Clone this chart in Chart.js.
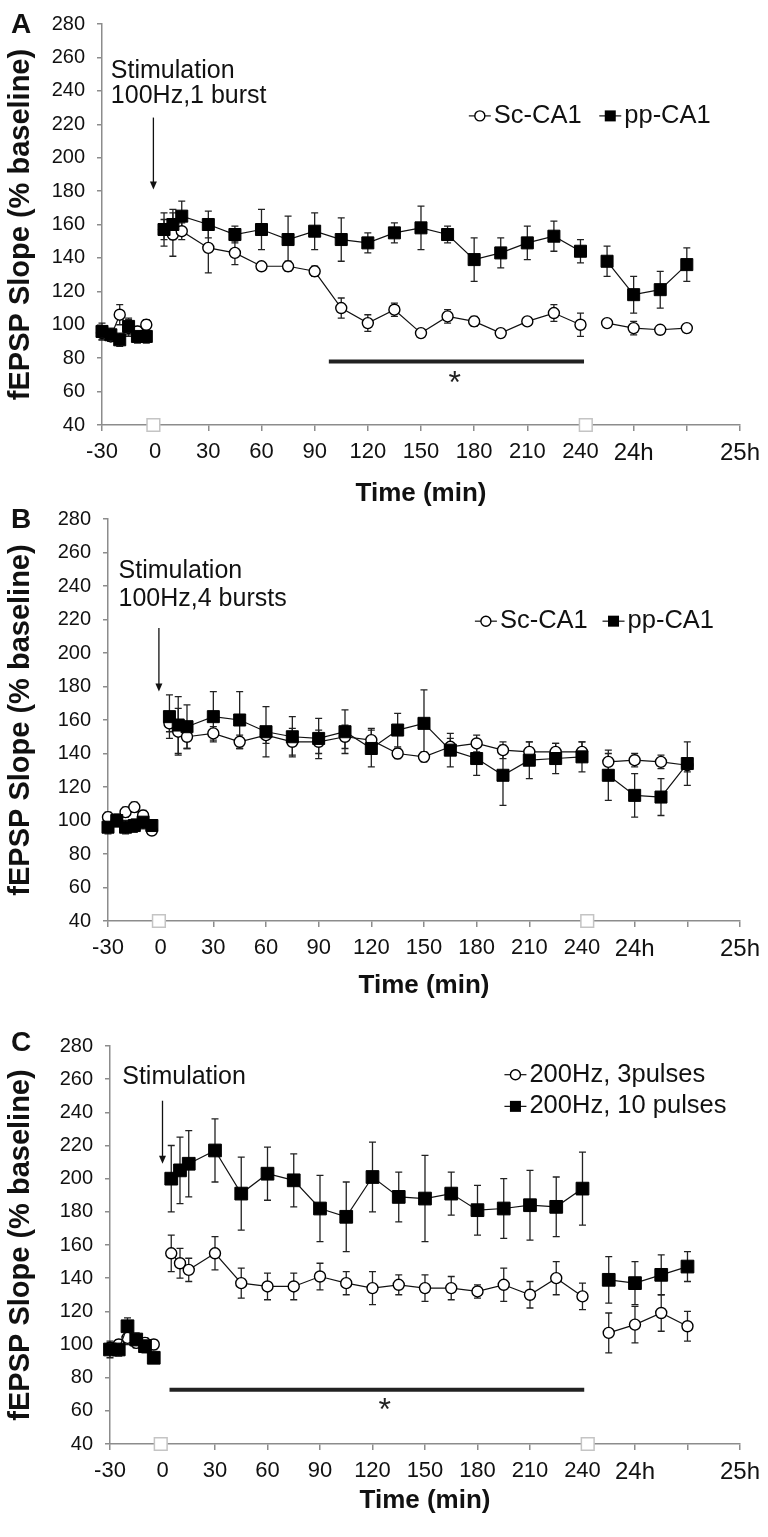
<!DOCTYPE html>
<html>
<head>
<meta charset="utf-8">
<script src="https://cdn.jsdelivr.net/npm/chart.js@4.4.0/dist/chart.umd.min.js"></script>
<style>
  html, body { margin: 0; padding: 0; background: #fff; }
  #page { position: relative; width: 768px; height: 1537px; overflow: hidden; }
  canvas { position: absolute; left: 0; }
</style>
</head>
<body>
<div id="page">
  <canvas id="panelA" width="768" height="510" style="top:0px"></canvas>
  <canvas id="panelB" width="768" height="510" style="top:495px"></canvas>
  <canvas id="panelC" width="768" height="515" style="top:1022px"></canvas>
</div>
<script>
// Time points (min). The last four were recorded around 24 h and sit just past the break.
const times = [-30, -25, -20, -15, -10, -5,
  5, 10, 15, 30, 45, 60, 75, 90, 105, 120, 135, 150, 165, 180, 195, 210, 225, 240,
  255, 270, 285, 300];
const breakAfter = [-5, 240];
const tickValues = [-30, 0, 30, 60, 90, 120, 150, 180, 210, 240, 270, 300, 330];
const tickLabels = ['-30', '0', '30', '60', '90', '120', '150', '180', '210', '240', '24h', '', '25h'];
const breakMarks = [-1, 243];

// A: 100Hz, 1 burst
const aScMean = [95, 93, 106, 98, 96, 100,
  157, 154, 156, 146, 143, 135, 135, 132, 110, 101, 109, 95, 105, 102, 95, 102, 107, 100,
  101, 98, 97, 98];
const aScSem = [4, 3, 6, 5, 3, 3,
  6, 13, 5, 15, 7, 2, 3, 3, 6, 5, 4, 2, 4, 3, 2, 2, 5, 7,
  2, 4, 2, 2];
const aPpMean = [96, 94, 91, 99, 93, 93,
  157, 160, 165, 160, 154, 157, 151, 156, 151, 149, 155, 158, 154, 139, 143, 149, 153, 144,
  138, 118, 121, 136];
const aPpSem = [5, 4, 4, 5, 4, 4,
  10, 9, 9, 8, 5, 12, 14, 11, 13, 6, 6, 13, 5, 13, 9, 10, 9, 7,
  9, 11, 11, 10];

// B: 100Hz, 4 bursts
const bScMean = [102, 100, 105, 108, 103, 94,
  158, 153, 150, 152, 147, 151, 147, 147, 150, 148, 140, 138, 144, 146, 142, 141, 141, 141,
  135, 136, 135, 133];
const bScSem = [3, 3, 3, 3, 3, 2,
  5, 14, 7, 4, 4, 5, 8, 7, 7, 7, 3, 3, 5, 5, 5, 6, 5, 6,
  5, 4, 4, 4];
const bPpMean = [96, 100, 96, 97, 99, 97,
  162, 157, 156, 162, 160, 153, 150, 149, 153, 143, 154, 158, 142, 137, 127, 136, 137, 138,
  127, 115, 114, 134];
const bPpSem = [4, 4, 4, 4, 4, 3,
  13, 17, 13, 15, 17, 15, 12, 12, 13, 11, 10, 20, 10, 10, 18, 11, 9, 9,
  15, 13, 11, 13];

// C: 200Hz, 3 vs 10 pulses
const c3Mean = [98, 100, 104, 101, 101, 100,
  155, 149, 145, 155, 137, 135, 135, 141, 137, 134, 136, 134, 134, 132, 136, 130, 140, 129,
  107, 112, 119, 111];
const c3Sem = [3, 3, 4, 3, 3, 3,
  11, 9, 7, 10, 9, 8, 8, 8, 7, 10, 6, 8, 7, 4, 10, 8, 10, 8,
  12, 11, 11, 9];
const c10Mean = [97, 97, 111, 103, 99, 92,
  200, 205, 209, 217, 191, 203, 199, 182, 177, 201, 189, 188, 191, 181, 182, 184, 183, 194,
  139, 137, 142, 147];
const c10Sem = [5, 4, 5, 4, 4, 3,
  20, 20, 20, 19, 22, 16, 16, 20, 21, 21, 15, 26, 13, 15, 18, 21, 18, 22,
  14, 13, 12, 9];

const SANS = '"Liberation Sans", Arial, sans-serif';
const NARROW = '"Liberation Sans Narrow", "Arial Narrow", "Liberation Sans", sans-serif';
const AXIS = '#8c8c8c';
const INK = '#111';

/** Turns a mean/sem pair into line points, with gaps at the stimulation and the 24h break. */
function toPoints(means, sems) {
    const data = [], errors = [];
    times.forEach((t, i) => {
        data.push({x: t, y: means[i]});
        errors.push(sems[i]);
        if (breakAfter.includes(t)) {
            data.push({x: t, y: null});
            errors.push(null);
        }
    });
    return {data, errors};
}

function squares(label, means, sems, size) {
    const {data, errors} = toPoints(means, sems);
    return {
        label, data, errors,
        borderColor: INK, borderWidth: 1.2,
        pointStyle: 'rect', pointRadius: size, pointBackgroundColor: '#000',
        pointBorderColor: '#000', pointBorderWidth: 1,
        spanGaps: false, tension: 0, clip: false
    };
}

function circles(label, means, sems, size) {
    const {data, errors} = toPoints(means, sems);
    return {
        label, data, errors,
        borderColor: INK, borderWidth: 1.2,
        pointStyle: 'circle', pointRadius: size, pointBackgroundColor: '#fff',
        pointBorderColor: '#000', pointBorderWidth: 1.4,
        spanGaps: false, tension: 0, clip: false
    };
}

function breakSquares() {
    return {
        label: 'break',
        data: breakMarks.map(t => ({x: t, y: 40})),
        showLine: false,
        pointStyle: 'rect', pointRadius: 9, pointBackgroundColor: '#fff',
        pointBorderColor: '#c4c4c4', pointBorderWidth: 1.5, clip: false
    };
}

/** Vertical SEM bars with caps, drawn under the markers. */
const errorBars = {
    id: 'errorBars',
    beforeDatasetsDraw(chart) {
        const {ctx, scales: {x, y}} = chart;
        ctx.save();
        ctx.strokeStyle = '#222';
        ctx.lineWidth = 1.3;
        chart.data.datasets.forEach(ds => {
            if (!ds.errors) return;
            ds.data.forEach((p, i) => {
                const e = ds.errors[i];
                if (p.y == null || e == null) return;
                const px = x.getPixelForValue(p.x);
                const top = y.getPixelForValue(p.y + e);
                const bot = y.getPixelForValue(p.y - e);
                ctx.beginPath();
                ctx.moveTo(px, top); ctx.lineTo(px, bot);
                ctx.moveTo(px - 3.5, top); ctx.lineTo(px + 3.5, top);
                ctx.moveTo(px - 3.5, bot); ctx.lineTo(px + 3.5, bot);
                ctx.stroke();
            });
        });
        ctx.restore();
    }
};

function drawMarker(ctx, style, cx, cy) {
    ctx.lineWidth = 1.4;
    ctx.strokeStyle = '#000';
    if (style === 'square') {
        ctx.fillStyle = '#000';
        ctx.fillRect(cx - 5.5, cy - 5.5, 11, 11);
    } else {
        ctx.beginPath();
        ctx.arc(cx, cy, 5, 0, Math.PI * 2);
        ctx.fillStyle = '#fff';
        ctx.fill();
        ctx.stroke();
    }
}

/** Panel letter, stimulation label and arrow, legend and significance bar. */
const notes = {
    id: 'notes',
    afterDraw(chart, args, o) {
        const {ctx, scales: {x, y}} = chart;
        ctx.save();
        ctx.fillStyle = INK;
        ctx.strokeStyle = INK;
        ctx.textAlign = 'left';
        ctx.textBaseline = 'middle';

        ctx.font = 'bold 28px ' + SANS;
        ctx.fillText(o.letter, o.letterAt[0], o.letterAt[1]);

        ctx.font = '25px ' + SANS;
        o.text.forEach(([s, t, v]) => ctx.fillText(s, x.getPixelForValue(t), y.getPixelForValue(v)));

        // stimulation arrow
        const ax = x.getPixelForValue(o.arrow.t);
        const a0 = y.getPixelForValue(o.arrow.from);
        const a1 = y.getPixelForValue(o.arrow.to);
        ctx.lineWidth = 1.3;
        ctx.beginPath();
        ctx.moveTo(ax, a0); ctx.lineTo(ax, a1 - 6);
        ctx.stroke();
        ctx.beginPath();
        ctx.moveTo(ax - 3.5, a1 - 8); ctx.lineTo(ax + 3.5, a1 - 8); ctx.lineTo(ax, a1);
        ctx.closePath();
        ctx.fill();

        // legend
        o.legend.forEach(([label, style, t, v]) => {
            const lx = x.getPixelForValue(t);
            const ly = y.getPixelForValue(v);
            ctx.strokeStyle = INK;
            ctx.lineWidth = 1.2;
            ctx.beginPath();
            ctx.moveTo(lx, ly); ctx.lineTo(lx + 22, ly);
            ctx.stroke();
            drawMarker(ctx, style, lx + 11, ly);
            ctx.fillStyle = INK;
            ctx.font = '25.5px ' + SANS;
            ctx.fillText(label, lx + 25, ly);
        });

        // significance bar
        if (o.sig) {
            const sy = y.getPixelForValue(o.sig.v);
            ctx.strokeStyle = '#222';
            ctx.lineWidth = 4;
            ctx.beginPath();
            ctx.moveTo(x.getPixelForValue(o.sig.from), sy);
            ctx.lineTo(x.getPixelForValue(o.sig.to), sy);
            ctx.stroke();
            ctx.font = '32px ' + SANS;
            ctx.textAlign = 'center';
            ctx.textBaseline = 'alphabetic';
            ctx.fillStyle = '#222';
            ctx.fillText('*', x.getPixelForValue(o.sig.star[0]), y.getPixelForValue(o.sig.star[1]) + 16);
        }
        ctx.restore();
    }
};

function makePanel(id, box, datasets, panelNotes) {
    const canvas = document.getElementById(id);
    const config = {
        type: 'line',
        data: {datasets: [...datasets, breakSquares()]},
        options: {
            responsive: false,
            animation: false,
            events: [],
            layout: {padding: {top: box.top, right: 768 - box.right, bottom: 0, left: 0}},
            plugins: {
                legend: {display: false},
                tooltip: {enabled: false},
                notes: panelNotes
            },
            scales: {
                x: {
                    type: 'linear',
                    min: -30,
                    max: 330,
                    afterBuildTicks: s => { s.ticks = tickValues.map(v => ({value: v})); },
                    afterFit: s => { s.height = canvas.height - box.bottom; },
                    border: {color: AXIS, width: 1.5},
                    grid: {drawOnChartArea: false, color: AXIS, lineWidth: 1.5, tickLength: 6},
                    ticks: {
                        autoSkip: false,
                        maxRotation: 0,
                        padding: 8,
                        color: INK,
                        font: c => ({family: NARROW, size: c.tick && c.tick.value >= 270 ? 24 : 22}),
                        callback: v => tickLabels[tickValues.indexOf(v)]
                    },
                    title: {
                        display: true,
                        text: 'Time (min)',
                        color: INK,
                        font: {family: SANS, size: 26, weight: 'bold'},
                        padding: {top: 0, bottom: box.titlePad}
                    }
                },
                y: {
                    min: 40,
                    max: 280,
                    afterFit: s => { s.width = box.left; },
                    border: {color: AXIS, width: 1.5},
                    grid: {drawOnChartArea: false, color: AXIS, lineWidth: 1.5, tickLength: 5},
                    ticks: {stepSize: 20, padding: 12, color: INK, font: {family: SANS, size: 20}},
                    title: {
                        display: true,
                        text: 'fEPSP Slope (% baseline)',
                        color: INK,
                        font: {family: SANS, size: 29, weight: 'bold'},
                        padding: {top: 4, bottom: 0}
                    }
                }
            }
        },
        plugins: [errorBars, notes]
    };
    new Chart(canvas, config);
}

makePanel('panelA', {top: 17, bottom: 425, left: 102, right: 742, titlePad: 1},
    [squares('pp-CA1', aPpMean, aPpSem, 8.5), circles('Sc-CA1', aScMean, aScSem, 5.5)],
    {
        letter: 'A', letterAt: [11, 25],
        text: [['Stimulation', -25, 252], ['100Hz,1 burst', -25, 237]],
        arrow: {t: -1, from: 224, to: 181},
        legend: [['Sc-CA1', 'circle', 177, 225], ['pp-CA1', 'square', 250.6, 225]],
        sig: {from: 98, to: 242, v: 78, star: [169, 69]}
    });

makePanel('panelB', {top: 18, bottom: 426, left: 108, right: 744, titlePad: 4},
    [squares('pp-CA1', bPpMean, bPpSem, 8.5), circles('Sc-CA1', bScMean, bScSem, 5.5)],
    {
        letter: 'B', letterAt: [11, 25],
        text: [['Stimulation', -24, 249], ['100Hz,4 bursts', -24, 232]],
        arrow: {t: -1, from: 215, to: 177},
        legend: [['Sc-CA1', 'circle', 179, 219], ['pp-CA1', 'square', 251.7, 219]]
    });

makePanel('panelC', {top: 20, bottom: 422, left: 110, right: 744, titlePad: 21},
    [squares('200Hz, 10 pulses', c10Mean, c10Sem, 9), circles('200Hz, 3pulses', c3Mean, c3Sem, 5.5)],
    {
        letter: 'C', letterAt: [11, 21],
        text: [['Stimulation', -23, 261.5]],
        arrow: {t: 0, from: 247, to: 209},
        legend: [['200Hz, 3pulses', 'circle', 195.4, 262.7], ['200Hz, 10 pulses', 'square', 195.4, 243.6]],
        sig: {from: 4, to: 241, v: 72.7, star: [127, 64]}
    });
</script>
</body>
</html>
